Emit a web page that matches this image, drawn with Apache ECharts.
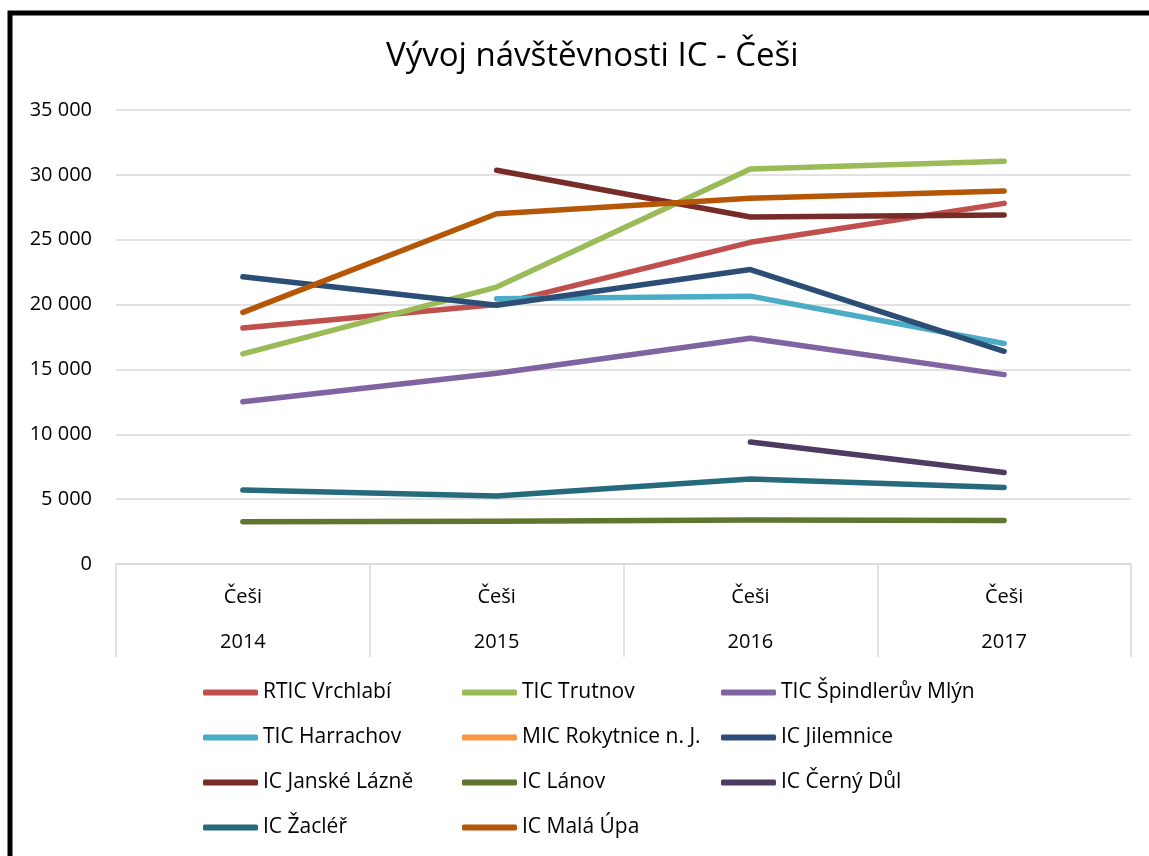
<!DOCTYPE html>
<html>
<head>
<meta charset="utf-8">
<script src="https://cdn.jsdelivr.net/npm/echarts@6/dist/echarts.min.js"></script>
<style>
  html, body { margin: 0; padding: 0; background: #fff; }
  #chart { width: 1149px; height: 856px; }
</style>
</head>
<body>
<div id="chart"></div>
<script>
// Kategorie osy X (dvouúrovňové: skupina + rok)
const groups = ["Češi", "Češi", "Češi", "Češi"];
const years = ["2014", "2015", "2016", "2017"];

// Hodnoty jednotlivých IC
const rticVrchlabi = [18200, 20000, 24800, 27800];
const ticTrutnov = [16200, 21350, 30450, 31050];
const ticSpindleruvMlyn = [12500, 14700, 17400, 14600];
const ticHarrachov = [null, 20450, 20650, 17000];
const micRokytnice = [null, null, null, null];
const icJilemnice = [22150, 19950, 22700, 16400];
const icJanskeLazne = [null, 30350, 26750, 26900];
const icLanov = [3250, 3300, 3400, 3350];
const icCernyDul = [null, null, 9400, 7050];
const icZacler = [5700, 5250, 6550, 5900];
const icMalaUpa = [19400, 27000, 28200, 28750];

const seriesNames = [
    "RTIC Vrchlabí", "TIC Trutnov", "TIC Špindlerův Mlýn",
    "TIC Harrachov", "MIC Rokytnice n. J.", "IC Jilemnice",
    "IC Janské Lázně", "IC Lánov", "IC Černý Důl",
    "IC Žacléř", "IC Malá Úpa"
];
const seriesData = [
    rticVrchlabi, ticTrutnov, ticSpindleruvMlyn,
    ticHarrachov, micRokytnice, icJilemnice,
    icJanskeLazne, icLanov, icCernyDul,
    icZacler, icMalaUpa
];
const colors = [
    "#C0504D", "#9BBB59", "#8064A2",
    "#4BACC6", "#F79646", "#2C4D75",
    "#772C2A", "#5F7530", "#4D3B62",
    "#276A7C", "#B65708"
];

const font = "'Open Sans', 'DejaVu Sans', sans-serif";
const chart = echarts.init(document.getElementById("chart"));

chart.setOption({
    animation: false,
    color: colors,
    textStyle: { fontFamily: font },
    title: {
        text: "Vývoj návštěvnosti IC - Češi",
        left: 381,
        top: 35,
        textStyle: { fontFamily: font, fontSize: 33, fontWeight: "normal", color: "#000" }
    },
    grid: { left: 116, right: 18, top: 110, bottom: 292, containLabel: false },
    xAxis: {
        type: "category",
        data: years.map((y, i) => groups[i] + "\n" + y),
        boundaryGap: true,
        axisLine: { lineStyle: { color: "#d9d9d9", width: 1.5 } },
        axisTick: { show: true, alignWithLabel: false, length: 93, lineStyle: { color: "#d9d9d9", width: 1.5 } },
        axisLabel: {
            margin: 11,
            fontSize: 20,
            lineHeight: 45,
            color: "#000",
            fontFamily: font
        }
    },
    yAxis: {
        type: "value",
        min: 0,
        max: 35000,
        interval: 5000,
        axisLine: { show: false },
        axisTick: { show: false },
        splitLine: { lineStyle: { color: "#d9d9d9", width: 1.5 } },
        axisLabel: {
            margin: 24,
            fontSize: 20,
            color: "#000",
            fontFamily: font,
            formatter: v => String(v).replace(/\B(?=(\d{3})+(?!\d))/g, " ")
        }
    },
    legend: {
        data: seriesNames,
        left: 203,
        top: 670,
        width: 790,
        padding: 0,
        orient: "horizontal",
        icon: "roundRect",
        itemWidth: 55,
        itemHeight: 6,
        itemGap: 0,
        textStyle: {
            fontFamily: font,
            fontSize: 21,
            color: "#000",
            width: 199,
            lineHeight: 45
        }
    },
    graphic: [
        {
            type: "polyline",
            shape: { points: [[10, 856], [10, 13], [1149, 13]] },
            style: { stroke: "#000", lineWidth: 5, fill: null }
        }
    ],
    series: seriesData.map((d, i) => ({
        name: seriesNames[i],
        type: "line",
        data: d,
        symbol: "none",
        connectNulls: false,
        lineStyle: { width: 5.5, cap: "round", join: "round", color: colors[i] }
    }))
});
</script>
</body>
</html>
